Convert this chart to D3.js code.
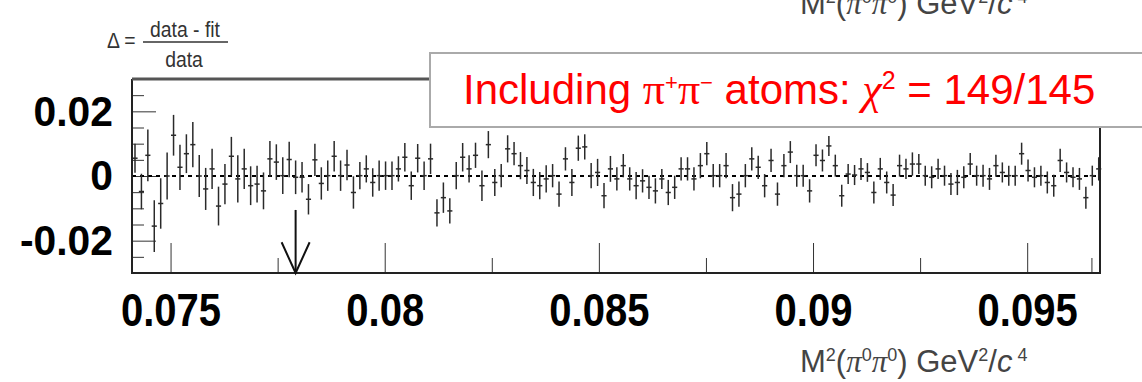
<!DOCTYPE html>
<html lang="en">

<head>
    <meta charset="UTF-8">
    <title>residuals</title>
    <style>
        body { margin: 0; background: #fff; }
        svg { display: block; font-family: "Liberation Sans", Arial, sans-serif; }
        .tick line { stroke: #333; }
        .greek { font-family: "Liberation Serif", "DejaVu Serif", serif; }
    </style>
</head>

<body>
    <div id="wrapper"></div>

    <script src="https://d3js.org/d3.v7.min.js"></script>
    <script>
        // 資料: (data - fit) / data，每個 bin 一個值與誤差
        const binStart = 0.074095,
            binWidth = 0.00015;

        const delta = [
            0.0055, -0.0048, 0.0064, -0.0155, -0.0085, 0.0000, 0.0126, 0.0027, 0.0069, 0.0097,
            0.0000, -0.0040, 0.0022, -0.0093, -0.0025, 0.0061, -0.0009, 0.0022, -0.0030, -0.0025,
            -0.0046, 0.0053, 0.0043, 0.0001, 0.0051, -0.0004, -0.0004, -0.0072, 0.0050, -0.0023,
            0.0001, 0.0061, 0.0001, 0.0034, -0.0051, 0.0001, 0.0022, -0.0020, 0.0001, 0.0001,
            0.0001, 0.0022, 0.0058, -0.0030, 0.0055, 0.0001, 0.0053, -0.0114, -0.0067, -0.0108,
            0.0001, 0.0058, 0.0022, 0.0064, -0.0030, 0.0097, -0.0020, 0.0001, 0.0084, 0.0069,
            0.0032, 0.0017, -0.0020, -0.0030, -0.0009, 0.0001, -0.0056, 0.0053, -0.0020, 0.0086,
            0.0090, 0.0001, 0.0011, -0.0061, 0.0022, -0.0009, 0.0032, -0.0009, -0.0030, -0.0015,
            -0.0035, -0.0046, -0.0009, -0.0051, -0.0035, 0.0022, 0.0022, -0.0009, 0.0032, 0.0069,
            0.0001, 0.0001, 0.0032, -0.0067, -0.0056, 0.0001, 0.0053, 0.0027, -0.0030, 0.0048,
            -0.0056, 0.0032, 0.0074, 0.0001, 0.0001, -0.0046, 0.0064, 0.0048, 0.0093, 0.0032,
            -0.0061, 0.0006, 0.0003, 0.0022, 0.0011, -0.0051, 0.0022, -0.0020, -0.0059, 0.0032,
            0.0022, 0.0037, 0.0037, 0.0001, -0.0004, 0.0022, 0.0001, -0.0025, -0.0020, -0.0004,
            0.0037, 0.0001, 0.0001, -0.0009, 0.0032, 0.0011, 0.0001, 0.0001, 0.0069, 0.0017,
            -0.0004, 0.0001, -0.0020, -0.0030, 0.0048, 0.0011, -0.0004, -0.0009, -0.0067, 0.0001,
            0.0022
        ];

        const deltaErr = [
            0.0045, 0.0055, 0.0080, 0.0080, 0.0078, 0.0073, 0.0063, 0.0070, 0.0060, 0.0070,
            0.0065, 0.0065, 0.0062, 0.0060, 0.0062, 0.0060, 0.0073, 0.0062, 0.0060, 0.0057,
            0.0057, 0.0055, 0.0055, 0.0057, 0.0055, 0.0052, 0.0047, 0.0047, 0.0050, 0.0050,
            0.0047, 0.0047, 0.0047, 0.0047, 0.0050, 0.0042, 0.0042, 0.0044, 0.0047, 0.0044,
            0.0044, 0.0039, 0.0044, 0.0044, 0.0044, 0.0044, 0.0047, 0.0042, 0.0047, 0.0039,
            0.0042, 0.0044, 0.0042, 0.0039, 0.0047, 0.0042, 0.0042, 0.0036, 0.0042, 0.0036,
            0.0042, 0.0042, 0.0042, 0.0042, 0.0042, 0.0036, 0.0039, 0.0036, 0.0042, 0.0039,
            0.0039, 0.0039, 0.0042, 0.0039, 0.0040, 0.0036, 0.0036, 0.0036, 0.0042, 0.0036,
            0.0036, 0.0039, 0.0031, 0.0039, 0.0036, 0.0036, 0.0036, 0.0036, 0.0039, 0.0036,
            0.0036, 0.0036, 0.0039, 0.0042, 0.0039, 0.0036, 0.0036, 0.0036, 0.0036, 0.0036,
            0.0036, 0.0036, 0.0034, 0.0034, 0.0034, 0.0036, 0.0034, 0.0034, 0.0031, 0.0034,
            0.0034, 0.0031, 0.0031, 0.0034, 0.0029, 0.0034, 0.0034, 0.0034, 0.0034, 0.0034,
            0.0031, 0.0036, 0.0031, 0.0031, 0.0034, 0.0031, 0.0031, 0.0034, 0.0039, 0.0034,
            0.0034, 0.0031, 0.0034, 0.0034, 0.0034, 0.0031, 0.0031, 0.0031, 0.0034, 0.0034,
            0.0031, 0.0031, 0.0034, 0.0034, 0.0036, 0.0031, 0.0031, 0.0034, 0.0034, 0.0031,
            0.0036
        ];

        // 刻度
        const xMajorTicks = [0.075, 0.08, 0.085, 0.09, 0.095];
        const xMinorTicks = [0.0775, 0.0825, 0.0875, 0.0925, 0.0965];
        const yMajorTicks = [-0.02, 0, 0.02];
        const yMinorTicks = [-0.025, -0.015, -0.01, -0.005, 0.005, 0.01, 0.015, 0.025];

        // π+π- 門檻 (箭頭)
        const thresholdX = 0.07792;
        const legendText = "149/145";

        // 建立svg畫布
        let svgwidth = 1142,
            svgheight = 382;
        const svg = d3.select('#wrapper').append('svg')
            .attr('width', svgwidth)
            .attr('height', svgheight);

        const xScale = d3.scaleLinear().domain([0.0741, 0.0967]).range([132, 1100]);
        const yScale = d3.scaleLinear().domain([-0.03, 0.03]).range([273, 79]);

        const points = delta.map((d, i) => ({
            x: binStart + binWidth * (i + 0.5),
            y: d,
            e: deltaErr[i]
        }));

        // X軸 (ticks 向上, label 在下)
        const xAxis = d3.axisBottom(xScale)
            .tickValues(xMajorTicks)
            .tickSizeOuter(0)
            .tickSizeInner(-30)
            .tickPadding(20)
            .tickFormat(d => d3.format("")(+d.toFixed(3)));
        const gx = svg.append('g').attr('transform', `translate(0,${yScale(-0.03)})`).call(xAxis);
        gx.select('.domain').remove();
        gx.selectAll('text')
            .attr('font-size', 46)
            .attr('font-weight', 'bold')
            .attr('fill', '#000')
            .attr('transform', 'scale(0.87,1)')
            .attr('font-family', '"Liberation Sans", Arial, sans-serif');

        const xMinor = d3.axisBottom(xScale).tickValues(xMinorTicks).tickSizeOuter(0).tickSizeInner(-15).tickFormat('');
        const gxm = svg.append('g').attr('transform', `translate(0,${yScale(-0.03)})`).call(xMinor);
        gxm.select('.domain').remove();

        // Y軸 (ticks 向右)
        const yAxis = d3.axisLeft(yScale)
            .tickValues(yMajorTicks)
            .tickSizeOuter(0)
            .tickSizeInner(-24)
            .tickPadding(20)
            .tickFormat(d => d === 0 ? "0" : d3.format(".2f")(d).replace('−', '-'));
        const gy = svg.append('g').attr('transform', `translate(${xScale(0.0741)},0)`).call(yAxis);
        gy.select('.domain').remove();
        gy.selectAll('text')
            .attr('font-size', 43)
            .attr('font-weight', 'bold')
            .attr('fill', '#000')
            .attr('transform', 'scale(0.95,1)')
            .attr('font-family', '"Liberation Sans", Arial, sans-serif');

        const yMinor = d3.axisLeft(yScale).tickValues(yMinorTicks).tickSizeOuter(0).tickSizeInner(-12).tickFormat('');
        const gym = svg.append('g').attr('transform', `translate(${xScale(0.0741)},0)`).call(yMinor);
        gym.select('.domain').remove();

        // 零線 (虛線)
        svg.append('line')
            .attr('x1', xScale(0.0741)).attr('x2', xScale(0.0967))
            .attr('y1', yScale(0)).attr('y2', yScale(0))
            .attr('stroke', '#000')
            .attr('stroke-width', 2)
            .style('stroke-dasharray', '4,4');

        // 誤差棒
        const bars = svg.append('g').attr('stroke', '#2a2a2a').attr('stroke-width', 1.5);
        bars.selectAll('.ev').data(points).join('line')
            .attr('class', 'ev')
            .attr('x1', d => xScale(d.x)).attr('x2', d => xScale(d.x))
            .attr('y1', d => yScale(d.y - d.e)).attr('y2', d => yScale(d.y + d.e));
        bars.selectAll('.eh').data(points).join('line')
            .attr('class', 'eh')
            .attr('x1', d => xScale(d.x - binWidth * 0.4)).attr('x2', d => xScale(d.x + binWidth * 0.4))
            .attr('y1', d => yScale(d.y)).attr('y2', d => yScale(d.y));

        // 框
        const frame = svg.append('g').attr('fill', 'none');
        frame.append('path')
            .attr('d', d3.line()([
                [xScale(0.0741), yScale(0.03)],
                [xScale(0.0741), yScale(-0.03)],
                [xScale(0.0967), yScale(-0.03)],
                [xScale(0.0967), yScale(0.03)]
            ]))
            .attr('stroke', '#222').attr('stroke-width', 2);
        frame.append('line')
            .attr('x1', xScale(0.0741)).attr('x2', 431)
            .attr('y1', yScale(0.03)).attr('y2', yScale(0.03))
            .attr('stroke', '#555').attr('stroke-width', 3);

        // 箭頭
        const ax = xScale(thresholdX);
        const arrow = svg.append('g').attr('stroke', '#111').attr('stroke-width', 2).attr('fill', 'none');
        arrow.append('line').attr('x1', ax).attr('x2', ax).attr('y1', yScale(-0.0105)).attr('y2', yScale(-0.03));
        arrow.append('path').attr('d', `M${ax - 14},${yScale(-0.0205)}L${ax},${yScale(-0.03)}L${ax + 14},${yScale(-0.0205)}`);

        // 圖例框
        svg.append('rect')
            .attr('x', 430).attr('y', 53)
            .attr('width', 760).attr('height', 74)
            .attr('fill', '#fff')
            .attr('stroke', '#aaa').attr('stroke-width', 2);
        const lg = svg.append('text')
            .attr('x', 463).attr('y', 104)
            .attr('fill', '#ff0000')
            .attr('font-size', 42);
        lg.append('tspan').text('Including ');
        lg.append('tspan').attr('class', 'greek').attr('font-size', 44).text('π');
        lg.append('tspan').attr('font-size', 22).attr('dy', -14).text('+');
        lg.append('tspan').attr('class', 'greek').attr('font-size', 44).attr('dy', 14).text('π');
        lg.append('tspan').attr('font-size', 22).attr('dy', -14).text('−');
        lg.append('tspan').attr('dy', 14).text(' atoms: ');
        lg.append('tspan').attr('class', 'greek').attr('font-style', 'italic').attr('font-size', 44).text('χ');
        lg.append('tspan').attr('font-size', 25).attr('dy', -15).text('2');
        lg.append('tspan').attr('dy', 15).text(' = ' + legendText);

        // X軸標題
        function xTitle(y) {
            const t = svg.append('text')
                .attr('x', 800).attr('y', y)
                .attr('fill', '#444')
                .attr('font-size', 31);
            t.append('tspan').text('M');
            t.append('tspan').attr('font-size', 18).attr('dy', -11).text('2');
            t.append('tspan').attr('dy', 11).text('(');
            t.append('tspan').attr('class', 'greek').attr('font-style', 'italic').text('π');
            t.append('tspan').attr('font-size', 18).attr('dy', -11).text('0');
            t.append('tspan').attr('class', 'greek').attr('dy', 11).attr('font-style', 'italic').text('π');
            t.append('tspan').attr('font-size', 18).attr('dy', -11).text('0');
            t.append('tspan').attr('dy', 11).text(') GeV');
            t.append('tspan').attr('font-size', 18).attr('dy', -11).text('2');
            t.append('tspan').attr('dy', 11).text('/');
            t.append('tspan').attr('font-style', 'italic').text('c');
            t.append('tspan').attr('font-size', 18).attr('dy', -11).text(' 4');
        }
        xTitle(372);
        xTitle(14);

        // Y軸標題  Δ = (data - fit)/data
        const yt = svg.append('g').attr('fill', '#333').attr('font-size', 22);
        yt.append('text').attr('x', 107 / 0.88).attr('y', 48).attr('transform', 'scale(0.88,1)').text('Δ =');
        yt.append('text').attr('x', 185 / 0.88).attr('y', 37).attr('transform', 'scale(0.88,1)').attr('text-anchor', 'middle').text('data - fit');
        yt.append('line').attr('x1', 143).attr('x2', 228).attr('y1', 42).attr('y2', 42)
            .attr('stroke', '#333').attr('stroke-width', 1.5);
        yt.append('text').attr('x', 184 / 0.88).attr('y', 67).attr('transform', 'scale(0.88,1)').attr('text-anchor', 'middle').text('data');
    </script>
</body>

</html>
